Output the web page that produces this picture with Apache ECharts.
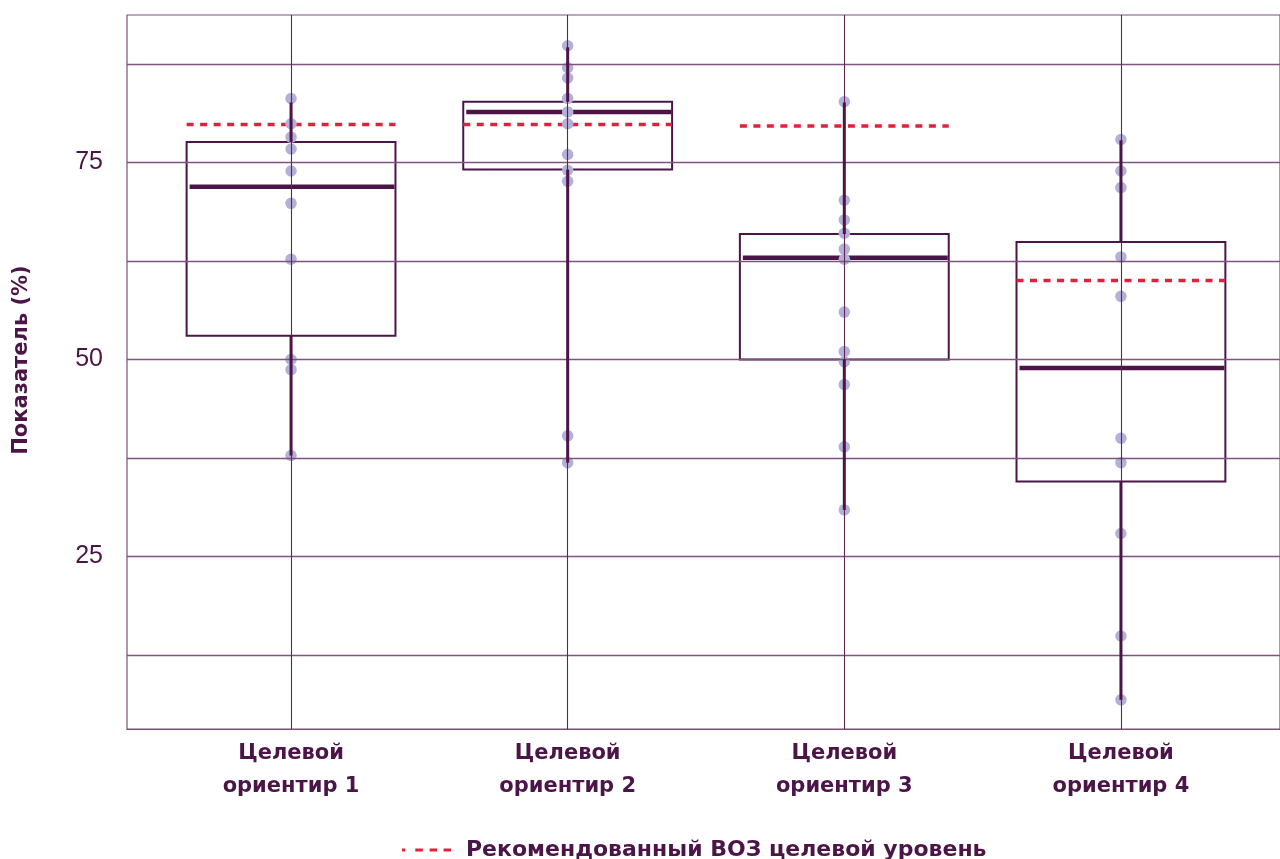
<!DOCTYPE html>
<html>
<head>
<meta charset="utf-8">
<script src="https://cdn.jsdelivr.net/npm/echarts@6/dist/echarts.min.js"></script>
<style>
html,body{margin:0;padding:0;background:#fff;}
#chart{width:1280px;height:859px;}
</style>
</head>
<body>
<div id="chart"></div>
<script>
// ---- data ----
const categories = ['Целевой\nориентир 1', 'Целевой\nориентир 2', 'Целевой\nориентир 3', 'Целевой\nориентир 4'];
// box statistics: [min, Q1, median, Q3, max]
const boxMin    = [37.8, 36.9, 30.9, 6.8];
const boxQ1     = [53.0, 74.1, 50.0, 34.5];
const boxMedian = [71.9, 81.4, 62.9, 48.9];
const boxQ3     = [77.6, 82.7, 65.9, 64.9];
const boxMax    = [82.6, 89.6, 82.6, 77.8];
// WHO recommended target level per category
const whoTarget = [79.8, 79.8, 79.6, 60.0];
// individual observations per category
const points1 = [83.1, 79.9, 78.2, 76.7, 73.9, 69.8, 62.7, 50.0, 48.7, 37.8];
const points2 = [89.8, 87.0, 85.7, 83.1, 81.4, 79.9, 76.0, 74.0, 72.6, 40.3, 36.9];
const points3 = [82.7, 70.2, 67.7, 66.0, 64.0, 62.7, 56.0, 51.0, 49.7, 46.8, 38.9, 30.9];
const points4 = [77.9, 73.9, 71.8, 63.0, 58.0, 40.0, 36.9, 27.9, 14.9, 6.8];
const yTickLabels = [25, 50, 75];
const yGridValues = [12.5, 25, 37.5, 50, 62.5, 75, 87.5];
const legendName = 'Рекомендованный ВОЗ целевой уровень';
const yAxisName = 'Показатель (%)';

// ---- build ----
const DARK = '#4b1548';
const RED = '#e3203b';
const FONT = 'DejaVu Sans';
const allPoints = [points1, points2, points3, points4];
const boxData = categories.map((c, i) => [i, boxMin[i], boxQ1[i], boxMedian[i], boxQ3[i], boxMax[i], whoTarget[i]]);
const scatterData = [];
allPoints.forEach((arr, i) => arr.forEach(v => scatterData.push([i, v])));

const dashIcon = 'path://M0,0h3.3v3h-3.3z M13.3,0h7.5v3h-7.5z M27.6,0h7.5v3h-7.5z M41.6,0h7.4v3h-7.4z';

function boxGeom(api) {
  const x = api.value(0);
  const g = {
    bw: api.size([1, 0])[0] * 0.755,
    pMin: api.coord([x, api.value(1)]),
    pQ1: api.coord([x, api.value(2)]),
    pMed: api.coord([x, api.value(3)]),
    pQ3: api.coord([x, api.value(4)]),
    pMax: api.coord([x, api.value(5)]),
    pT: api.coord([x, api.value(6)])
  };
  g.cx = g.pMed[0];
  return g;
}

const chart = echarts.init(document.getElementById('chart'));
chart.setOption({
  animation: false,
  backgroundColor: '#fff',
  grid: {left: 127, top: 15, right: 0, bottom: 130, show: true, borderColor: '#7d5079', borderWidth: 1.2,
         outerBoundsMode: 'none', containLabel: false},
  legend: {
    data: [{name: legendName, icon: dashIcon}], left: 397, top: 834, itemWidth: 49, itemHeight: 3, itemGap: 10,
    itemStyle: {color: RED, borderWidth: 0},
    textStyle: {fontFamily: FONT, fontSize: 22, fontWeight: 'bold', color: DARK, padding: [0, 0, 0, 10]}
  },
  xAxis: {
    type: 'value', min: -0.593, max: 3.575,
    axisLine: {show: true, lineStyle: {color: '#7d5079', width: 1.2}},
    axisTick: {show: false},
    splitLine: {show: false},
    axisLabel: {
      customValues: [0, 1, 2, 3], showMinLabel: true, showMaxLabel: true, hideOverlap: false,
      formatter: v => categories[Math.round(v)] || '',
      fontFamily: FONT, fontSize: 21, fontWeight: 'bold', color: DARK, lineHeight: 33, margin: 8
    }
  },
  yAxis: {
    type: 'value', min: 3.1, max: 93.7,
    name: yAxisName, nameLocation: 'middle', nameGap: 95, nameRotate: 90,
    nameTextStyle: {fontFamily: FONT, fontSize: 21, fontWeight: 'bold', color: DARK, padding: [0, 0, 0, 24]},
    axisLine: {show: false}, axisTick: {show: false}, splitLine: {show: false},
    axisLabel: {customValues: yTickLabels, fontFamily: 'Liberation Sans', fontSize: 25, color: DARK, margin: 24}
  },
  series: [
    {
      type: 'line', name: '__grid', data: [], silent: true, z: 1,
      markLine: {
        silent: true, symbol: ['none', 'none'], label: {show: false},
        data: yGridValues.map(v => ({yAxis: v, lineStyle: {color: '#80527e', width: 1.3, type: 'solid'}}))
          .concat([0, 1, 2, 3].map(v => ({xAxis: v, lineStyle: {color: '#5a2857', width: 1.1, type: 'solid'}})))
      }
    },
    {
      type: 'custom', name: '__box', z: 3, data: boxData, silent: true,
      encode: {x: 0, y: [1, 2, 3, 4, 5]},
      renderItem: function (params, api) {
        const g = boxGeom(api);
        const cx = g.cx, bw = g.bw;
        return {
          type: 'group',
          children: [
            {type: 'rect', shape: {x: cx - bw / 2, y: g.pQ3[1], width: bw, height: g.pQ1[1] - g.pQ3[1]},
             style: {fill: '#fff', stroke: DARK, lineWidth: 2}},
            {type: 'line', shape: {x1: cx - bw / 2 + 3, y1: g.pMed[1], x2: cx + bw / 2 - 1, y2: g.pMed[1]},
             style: {stroke: DARK, lineWidth: 4.5}},
            {type: 'line', shape: {x1: cx - bw / 2, y1: g.pT[1], x2: cx + bw / 2, y2: g.pT[1]},
             style: {stroke: RED, lineWidth: 3.5, lineDash: [7, 6.5]}}
          ]
        };
      }
    },
    {
      type: 'scatter', name: '__pts', data: scatterData, z: 4, silent: true,
      symbolSize: 11.5, itemStyle: {color: '#b5b0d7', opacity: 1}
    },
    {
      type: 'custom', name: '__whisker', z: 5, data: boxData, silent: true,
      encode: {x: 0, y: [1, 2, 3, 4, 5]},
      renderItem: function (params, api) {
        const g = boxGeom(api);
        const cx = g.cx;
        return {
          type: 'group',
          children: [
            {type: 'line', shape: {x1: cx, y1: g.pMax[1], x2: cx, y2: g.pQ3[1]}, style: {stroke: DARK, lineWidth: 3}},
            {type: 'line', shape: {x1: cx, y1: g.pQ1[1], x2: cx, y2: g.pMin[1]}, style: {stroke: DARK, lineWidth: 3}}
          ]
        };
      }
    },
    {
      type: 'line', name: legendName, data: [], symbol: 'none',
      lineStyle: {color: RED, width: 3, type: [7, 6]},
      itemStyle: {color: RED}
    }
  ]
});
</script>
</body>
</html>
